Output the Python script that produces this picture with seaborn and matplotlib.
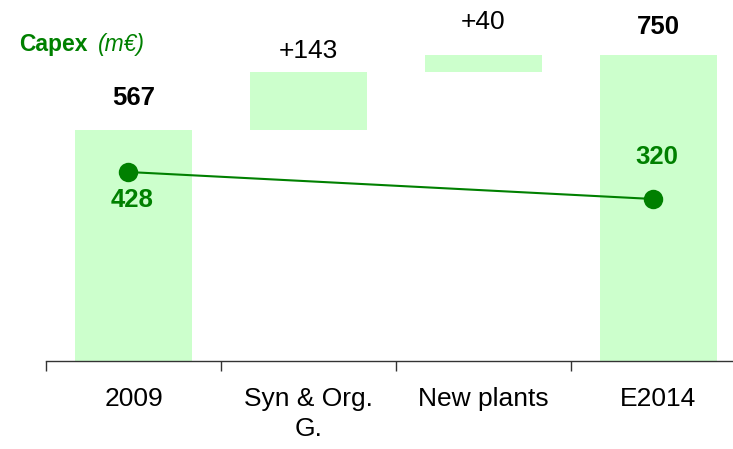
import matplotlib
matplotlib.use("Agg")
import matplotlib.pyplot as plt
import seaborn as sns
import numpy as np

# Waterfall of plant count / capacity, 2009 -> E2014
categories = ["2009", "Syn & Org.\nG.", "New plants", "E2014"]
bar_values = [567, 143, 40, 750]
bar_labels = ["567", "+143", "+40", "750"]
is_total = [True, False, False, True]

# Capex line (m€)
capex_categories = ["2009", "E2014"]
capex_values = [428, 320]

BAR_GREEN = "#CCFFCC"
DARK_GREEN = "#008000"

sns.set_theme(style="white")
plt.rcParams["font.family"] = ["Liberation Sans", "DejaVu Sans"]

fig = plt.figure(figsize=(7.33, 4.49), dpi=100)
ax = fig.add_axes([46 / 733, 88 / 449, 700 / 733, 361 / 449])

# bottoms of the floating bars: totals start at zero, increments stack on the running total
bottoms = []
running = 0
for v, tot in zip(bar_values, is_total):
    if tot:
        bottoms.append(0)
        running = v
    else:
        bottoms.append(running)
        running += v

sns.barplot(x=categories, y=bar_values, bottom=bottoms, color=BAR_GREEN,
            saturation=1, width=0.67, linewidth=0, ax=ax)

ax.set_xlim(-0.5, 3.5)
ax.set_ylim(0, 886)

# value labels above each bar
label_offsets = [32, 21, 33, 28]
for i, (b, v, lab, tot, off) in enumerate(zip(bottoms, bar_values, bar_labels, is_total, label_offsets)):
    ax.annotate(lab, xy=(i, b + v), xytext=(0, off * 0.72), textcoords="offset points",
                ha="center", va="center", fontsize=18.5 if tot else 19,
                fontweight="bold" if tot else "normal", color="black")

# axis styling: only the baseline with boundary ticks
for side in ["left", "top", "right"]:
    ax.spines[side].set_visible(False)
ax.spines["bottom"].set_color("#333333")
ax.spines["bottom"].set_linewidth(1.0)
ax.set_yticks([])
ax.set_xticks(np.arange(len(categories)))
ax.set_xticklabels(categories, fontsize=19, linespacing=1.3)
ax.set_xticks(np.arange(len(categories) + 1) - 0.5, minor=True)
ax.tick_params(axis="x", which="major", length=0, pad=19, colors="black")
ax.tick_params(axis="x", which="minor", length=7, width=1.0, color="#333333", bottom=True)
ax.set_xlabel("")
ax.set_ylabel("")

# Capex line on its own scale
ax2 = ax.twinx()
capex_x = [categories.index(c) - 0.03 for c in capex_categories]
sns.lineplot(x=capex_x, y=capex_values, color=DARK_GREEN, linewidth=1.5,
             marker="o", markersize=14, markeredgewidth=0, ax=ax2)
ax2.set_ylim(-328, 1116)
ax2.set_xlim(-0.5, 3.5)
ax2.axis("off")

capex_offsets = [-28, 42]
for x, v, off in zip(capex_x, capex_values, capex_offsets):
    ax2.annotate(str(v), xy=(x, v), xytext=(4 * 0.72, off * 0.72), textcoords="offset points",
                 ha="center", va="center", fontsize=18.5, fontweight="bold", color=DARK_GREEN)

fig.text(19 / 733, 1 - 45 / 449, "Capex", fontsize=16.5, fontweight="bold",
         color=DARK_GREEN, ha="left", va="center")
fig.text(98 / 733, 1 - 45 / 449, "(m€)", fontsize=16.5, fontstyle="italic",
         color=DARK_GREEN, ha="left", va="center")

fig.savefig("out.png", dpi=100, facecolor="white")
